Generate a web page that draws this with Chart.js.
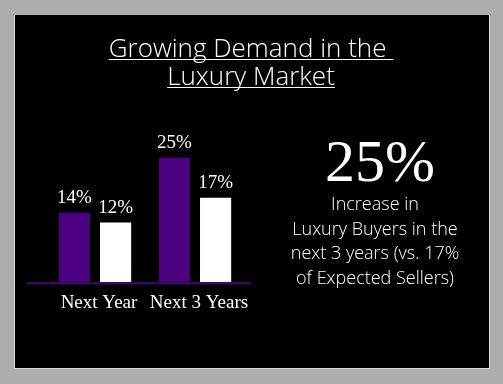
<!DOCTYPE html>
<html>
<head>
<meta charset="utf-8">
<script src="https://cdn.jsdelivr.net/npm/chart.js@4.4.1/dist/chart.umd.min.js"></script>
<style>
	html, body { margin: 0; padding: 0; background: #adadad; }
	#wrap { position: relative; width: 503px; height: 384px; }
</style>
</head>
<body>
<div id="wrap"><canvas id="chart" width="503" height="384"></canvas></div>
<script>
(function () {
	/*global Chart */

	// Chart values
	var categories = ['Next Year', 'Next 3 Years'];
	var buyers = [14, 25];
	var sellers = [12, 17];
	var titleLines = ['Growing Demand in the ', 'Luxury Market'];
	var bigNumber = '25%';
	var noteLines = ['Increase in', 'Luxury Buyers in the', 'next 3 years (vs. 17%', 'of Expected Sellers)'];

	var purple = '#4b0082';
	var sansFont = '"Open Sans", "DejaVu Sans", sans-serif';
	var serifFont = '"Liberation Serif", serif';

	// Black slide panel behind everything
	var panelPlugin = {
		id: 'panel',
		beforeDraw: function (chart) {
			var ctx = chart.ctx;
			ctx.save();
			ctx.fillStyle = '#d8d8d8';
			ctx.fillRect(14, 15, 476, 354);
			ctx.fillStyle = '#000';
			ctx.fillRect(15, 15, 474, 353);
			ctx.restore();
		},
	};

	// Title, underlined, and the note on the right
	var textPlugin = {
		id: 'slideText',
		afterDraw: function (chart) {
			var ctx = chart.ctx;
			ctx.save();
			ctx.fillStyle = '#fff';
			ctx.strokeStyle = '#fff';
			ctx.textAlign = 'center';
			ctx.textBaseline = 'alphabetic';

			ctx.font = '300 26px ' + sansFont;
			var y = 57;
			for (var i = 0; i < titleLines.length; i++) {
				var w = ctx.measureText(titleLines[i]).width;
				ctx.fillText(titleLines[i], 251, y);
				ctx.lineWidth = 1.2;
				ctx.beginPath();
				ctx.moveTo(251 - w / 2, y + 2.5);
				ctx.lineTo(251 + w / 2, y + 2.5);
				ctx.stroke();
				y += 28;
			}

			ctx.font = '60px ' + serifFont;
			ctx.fillText(bigNumber, 380, 181);

			ctx.font = '300 18px ' + sansFont;
			for (var j = 0; j < noteLines.length; j++) {
				ctx.fillText(noteLines[j], 375, 210 + j * 24.5);
			}
			ctx.restore();
		},
	};

	// Purple base line, wider than the plot area
	var baseLinePlugin = {
		id: 'baseLine',
		afterDatasetsDraw: function (chart) {
			var ctx = chart.ctx;
			var y0 = chart.scales.y.getPixelForValue(0);
			ctx.save();
			ctx.strokeStyle = purple;
			ctx.lineWidth = 2;
			ctx.beginPath();
			ctx.moveTo(27, y0 + 1);
			ctx.lineTo(251, y0 + 1);
			ctx.stroke();
			ctx.restore();
		},
	};

	// Percent labels over each bar
	var valueLabelPlugin = {
		id: 'valueLabels',
		afterDatasetsDraw: function (chart) {
			var ctx = chart.ctx;
			ctx.save();
			ctx.fillStyle = '#fff';
			ctx.font = '19px ' + serifFont;
			ctx.textAlign = 'center';
			ctx.textBaseline = 'alphabetic';
			chart.data.datasets.forEach(function (ds, d) {
				chart.getDatasetMeta(d).data.forEach(function (bar, k) {
					ctx.fillText(ds.data[k] + '%', bar.x, bar.y - 10);
				});
			});
			ctx.restore();
		},
	};

	new Chart(document.getElementById('chart'), {
		type: 'bar',
		data: {
			labels: categories,
			datasets: [
				{ label: 'Buyers', data: buyers, backgroundColor: purple },
				{ label: 'Sellers', data: sellers, backgroundColor: '#fff' },
			],
		},
		options: {
			responsive: false,
			animation: false,
			events: [],
			layout: { padding: { left: 45, right: 258, top: 133, bottom: 69 } },
			categoryPercentage: 0.824,
			barPercentage: 0.756,
			plugins: {
				legend: { display: false },
				tooltip: { enabled: false },
			},
			scales: {
				x: {
					grid: { display: false },
					border: { display: false },
					ticks: {
						color: '#fff',
						font: { family: serifFont, size: 19 },
						padding: 1,
						labelOffset: 4,
						maxRotation: 0,
						minRotation: 0,
						autoSkip: false,
					},
				},
				y: {
					display: false,
					min: 0,
					max: 30,
				},
			},
		},
		plugins: [panelPlugin, baseLinePlugin, valueLabelPlugin, textPlugin],
	});
})();
</script>
</body>
</html>
